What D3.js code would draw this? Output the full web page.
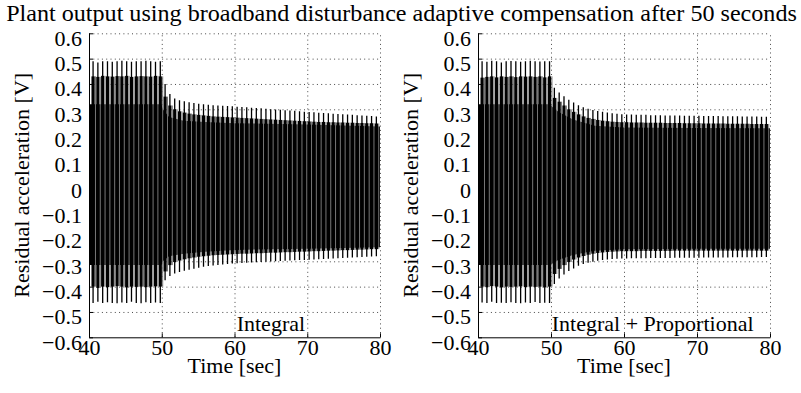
<!DOCTYPE html>
<html><head><meta charset="utf-8">
<script src="https://cdn.jsdelivr.net/npm/d3@7"></script>
<style>body{margin:0;background:#fff}svg{display:block}</style>
</head><body><svg id="c" width="801" height="393"></svg>
<script>
const titleText = "Plant output using broadband disturbance adaptive compensation after 50 seconds";
const xLabel = "Time [sec]";
const yLabel = "Residual acceleration [V]";
const panelLabels = ["Integral", "Integral + Proportional"];
const xTicks = [40, 50, 60, 70, 80];
const yTicks = [-0.6, -0.5, -0.4, -0.3, -0.2, -0.1, 0, 0.1, 0.2, 0.3, 0.4, 0.5, 0.6];

// oscillation cycles (one burst per cycle)
const cycleStart = 40.56, cyclePeriod = 0.66;

// ---- Left panel (Integral) ----
const leftUpperPeak = [0.490,0.485,0.490,0.490,0.488,0.490,0.492,0.490,0.488,0.490,0.490,0.492,0.490,0.488,0.490,
 0.400,0.360,0.343,0.336,0.332,0.328,0.325,0.322,0.320,0.318,0.316,0.315,0.314,0.313,0.312,
 0.310,0.309,0.308,0.306,0.305,0.304,0.302,0.300,0.299,0.298,0.296,0.295,0.294,0.292,0.290,
 0.289,0.288,0.286,0.285,0.284,0.282,0.281,0.280,0.279,0.278,0.277,0.276,0.275,0.274,0.272];
const leftUpperShoulder = [0.430,0.428,0.432,0.430,0.429,0.431,0.430,0.432,0.428,0.430,0.431,0.430,0.429,0.432,0.430,
 0.350,0.315,0.300,0.292,0.287,0.283,0.280,0.278,0.276,0.274,0.272,0.271,0.270,0.269,0.268,
 0.267,0.266,0.265,0.264,0.263,0.262,0.261,0.260,0.259,0.258,0.257,0.256,0.255,0.254,0.253,
 0.252,0.251,0.250,0.250,0.249,0.249,0.248,0.248,0.247,0.247,0.246,0.246,0.245,0.245,0.244];
const leftLowerPeak = [-0.465,-0.460,-0.465,-0.462,-0.465,-0.466,-0.463,-0.465,-0.460,-0.465,-0.466,-0.462,-0.465,-0.463,-0.465,
 -0.375,-0.358,-0.348,-0.342,-0.337,-0.333,-0.329,-0.325,-0.322,-0.319,-0.317,-0.315,-0.313,-0.311,-0.309,
 -0.308,-0.307,-0.306,-0.305,-0.304,-0.303,-0.302,-0.301,-0.300,-0.299,-0.298,-0.297,-0.296,-0.295,-0.295,
 -0.294,-0.293,-0.292,-0.291,-0.290,-0.289,-0.288,-0.287,-0.286,-0.285,-0.284,-0.283,-0.282,-0.281,-0.280];
const leftLowerShoulder = [-0.400,-0.405,-0.400,-0.402,-0.400,-0.398,-0.400,-0.403,-0.400,-0.401,-0.400,-0.402,-0.400,-0.399,-0.400,
 -0.340,-0.315,-0.303,-0.297,-0.292,-0.288,-0.285,-0.282,-0.280,-0.278,-0.276,-0.275,-0.274,-0.273,-0.272,
 -0.271,-0.270,-0.270,-0.269,-0.268,-0.268,-0.267,-0.266,-0.266,-0.265,-0.264,-0.264,-0.263,-0.262,-0.262,
 -0.261,-0.260,-0.260,-0.259,-0.258,-0.258,-0.257,-0.256,-0.256,-0.255,-0.254,-0.254,-0.253,-0.252,-0.252];

// dense core band (knots)
const coreTimes = [40, 49.95, 50.15, 51, 53, 56, 60, 70, 80];
const leftCoreUpper = [0.320, 0.320, 0.300, 0.270, 0.255, 0.250, 0.245, 0.240, 0.232];
const leftCoreLower = [-0.315, -0.315, -0.300, -0.280, -0.270, -0.262, -0.255, -0.250, -0.245];

// ---- Right panel (Integral + Proportional) ----
const rightUpperPeak = [0.490,0.488,0.492,0.490,0.485,0.490,0.491,0.490,0.488,0.490,0.492,0.490,0.489,0.490,0.490,
 0.385,0.366,0.352,0.338,0.327,0.316,0.308,0.302,0.297,0.293,0.290,0.287,0.284,0.282,0.280,
 0.279,0.279,0.278,0.278,0.278,0.277,0.277,0.277,0.276,0.276,0.276,0.276,0.275,0.275,0.275,
 0.275,0.274,0.274,0.274,0.274,0.273,0.273,0.273,0.273,0.272,0.272,0.272,0.272,0.271,0.271];
const rightUpperShoulder = [0.425,0.428,0.430,0.426,0.430,0.428,0.430,0.427,0.430,0.429,0.430,0.428,0.430,0.426,0.430,
 0.345,0.330,0.315,0.300,0.290,0.280,0.272,0.266,0.262,0.258,0.255,0.253,0.251,0.250,0.249,
 0.249,0.248,0.248,0.248,0.247,0.247,0.247,0.247,0.246,0.246,0.246,0.246,0.245,0.245,0.245,
 0.245,0.244,0.244,0.244,0.244,0.244,0.243,0.243,0.243,0.243,0.243,0.242,0.242,0.242,0.242];
const rightLowerPeak = [-0.463,-0.465,-0.460,-0.465,-0.464,-0.465,-0.462,-0.465,-0.466,-0.463,-0.465,-0.461,-0.465,-0.464,-0.465,
 -0.390,-0.368,-0.352,-0.338,-0.328,-0.318,-0.311,-0.306,-0.302,-0.298,-0.295,-0.293,-0.291,-0.290,-0.289,
 -0.289,-0.288,-0.288,-0.288,-0.288,-0.287,-0.287,-0.287,-0.287,-0.287,-0.286,-0.286,-0.286,-0.286,-0.286,
 -0.286,-0.285,-0.285,-0.285,-0.285,-0.285,-0.285,-0.284,-0.284,-0.284,-0.284,-0.284,-0.284,-0.283,-0.283];
const rightLowerShoulder = [-0.400,-0.402,-0.398,-0.400,-0.403,-0.400,-0.401,-0.400,-0.399,-0.402,-0.400,-0.401,-0.400,-0.403,-0.400,
 -0.350,-0.330,-0.315,-0.303,-0.293,-0.285,-0.279,-0.274,-0.270,-0.267,-0.265,-0.263,-0.262,-0.261,-0.260,
 -0.260,-0.260,-0.260,-0.259,-0.259,-0.259,-0.259,-0.259,-0.259,-0.259,-0.258,-0.258,-0.258,-0.258,-0.258,
 -0.258,-0.258,-0.258,-0.258,-0.258,-0.258,-0.258,-0.258,-0.258,-0.258,-0.258,-0.258,-0.258,-0.258,-0.258];
const rightCoreUpper = [0.320, 0.320, 0.310, 0.290, 0.260, 0.235, 0.228, 0.226, 0.225];
const rightCoreLower = [-0.315, -0.315, -0.310, -0.295, -0.275, -0.258, -0.252, -0.250, -0.250];

const svg = d3.select('#c');
const FONT = "'Liberation Serif','Times New Roman',Times,serif";
const FS = 22;

const panels = [
  {id: 'L', left: 89, right: 380, yTitleX: 29, label: panelLabels[0], labelT: 60.3,
   up: leftUpperPeak, us: leftUpperShoulder, lp: leftLowerPeak, ls: leftLowerShoulder,
   cu: leftCoreUpper, cl: leftCoreLower},
  {id: 'R', left: 478, right: 770, yTitleX: 418, label: panelLabels[1], labelT: 50.1,
   up: rightUpperPeak, us: rightUpperShoulder, lp: rightLowerPeak, ls: rightLowerShoulder,
   cu: rightCoreUpper, cl: rightCoreLower}
];
const yTop = 33.3, yBot = 337.3;
const fmt = d => Math.abs(d) < 1e-9 ? "0" : d3.format(".1f")(d);

panels.forEach(p => {
  const x = d3.scaleLinear().domain([40, 80]).range([p.left, p.right]);
  const y = d3.scaleLinear().domain([-0.6, 0.6]).range([yBot, yTop]);
  const g = svg.append('g');

  // grid
  const grid = g.append('g').attr('stroke', '#333').attr('stroke-width', 0.9)
    .attr('stroke-dasharray', '1,3.3');
  grid.selectAll('line.gx').data(xTicks.slice(1)).join('line')
    .attr('x1', d => x(d) + 0.5).attr('x2', d => x(d) + 0.5).attr('y1', y(-0.6)).attr('y2', y(0.6));
  grid.selectAll('line.gy').data(yTicks.slice(1)).join('line')
    .attr('y1', d => y(d) + 0.5).attr('y2', d => y(d) + 0.5).attr('x1', x(40)).attr('x2', x(80));

  // clip
  svg.append('clipPath').attr('id', 'clip' + p.id).append('rect')
    .attr('x', x(40)).attr('y', y(0.6)).attr('width', x(80) - x(40)).attr('height', y(-0.6) - y(0.6));
  const s = g.append('g').attr('clip-path', `url(#clip${p.id})`);

  // dense core band
  const core = coreTimes.map((t, i) => ({t, hi: p.cu[i], lo: p.cl[i]}));
  s.append('path').datum(core)
    .attr('d', d3.area().x(d => x(d.t)).y0(d => y(d.lo)).y1(d => y(d.hi)))
    .attr('fill', '#000');

  // bursts
  const cycles = p.up.map((v, i) => ({t: cycleStart + i * cyclePeriod, up: v, us: p.us[i], lp: p.lp[i], ls: p.ls[i]}));
  s.selectAll('rect.sh').data(cycles).join('rect')
    .attr('x', d => x(d.t) - 1.6).attr('width', 3.2)
    .attr('y', d => y(d.us)).attr('height', d => y(d.ls) - y(d.us)).attr('fill', '#000');
  s.selectAll('line.pk').data(cycles).join('line')
    .attr('x1', d => x(d.t)).attr('x2', d => x(d.t))
    .attr('y1', d => y(d.up)).attr('y2', d => y(d.lp))
    .attr('stroke', '#000').attr('stroke-width', 1.3);
  // secondary (gray) burst next to each main burst
  s.selectAll('line.sc').data(cycles).join('line')
    .attr('x1', d => x(d.t) + 2.4).attr('x2', d => x(d.t) + 2.4)
    .attr('y1', d => y(d.us)).attr('y2', d => y(d.ls))
    .attr('stroke', '#777').attr('stroke-width', 1);

  // axes
  const ax = g.append('g').attr('transform', `translate(${x(40)},0)`)
    .call(d3.axisLeft(y).tickValues(yTicks).tickFormat(fmt).tickSize(-4).tickSizeOuter(0).tickPadding(7));
  const bx = g.append('g').attr('transform', `translate(0,${y(-0.6)})`)
    .call(d3.axisBottom(x).tickValues(xTicks).tickFormat(d3.format('d')).tickSize(-4).tickSizeOuter(0).tickPadding(1));
  [ax, bx].forEach(a => {
    a.selectAll('path.domain').attr('stroke', '#000').attr('stroke-width', 1);
    a.selectAll('.tick line').attr('stroke', '#000');
    a.selectAll('text').attr('font-family', FONT).attr('font-size', FS).attr('fill', '#000');
  });
  ax.selectAll('text').attr('dy', 12);
  bx.selectAll('text').attr('y', 0).attr('dy', 17.5);

  // labels
  g.append('text').attr('x', (x(40) + x(80)) / 2).attr('y', 373).attr('text-anchor', 'middle')
    .attr('font-family', FONT).attr('font-size', FS).text(xLabel);
  g.append('text').attr('transform', `translate(${p.yTitleX},${(yTop + yBot) / 2}) rotate(-90)`)
    .attr('text-anchor', 'middle').attr('font-family', FONT).attr('font-size', FS).text(yLabel);
  g.append('text').attr('x', x(p.labelT)).attr('y', y(-0.575))
    .attr('font-family', FONT).attr('font-size', FS).text(p.label);
});

const title = svg.append('text').attr('x', 401.5).attr('y', 20.5).attr('text-anchor', 'middle')
  .attr('font-family', FONT).attr('font-size', FS).text(titleText);
const len = title.node().getComputedTextLength();
title.attr('font-size', FS * 791 / len);
</script></body></html>
